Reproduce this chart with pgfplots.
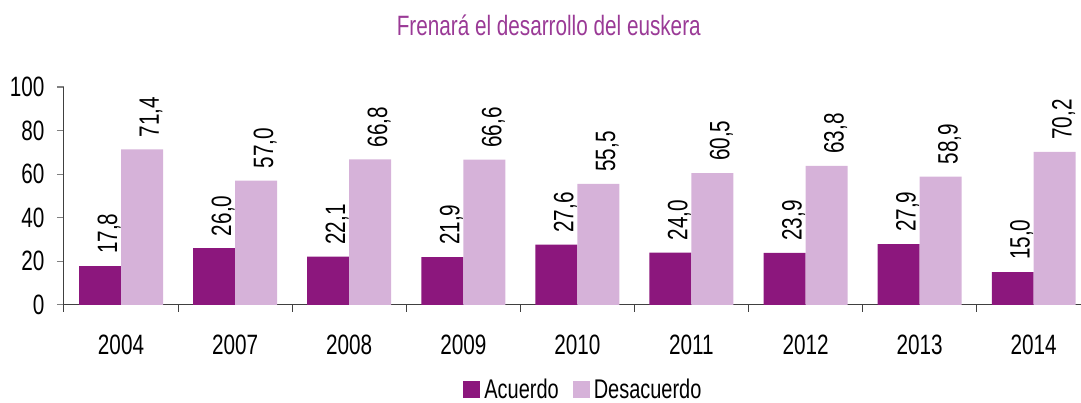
\documentclass[border=0pt]{standalone}
\usepackage{fontspec}
\setmainfont{Liberation Sans}[FakeStretch=0.74]
\usepackage{pgfplots}
\pgfplotsset{compat=1.18}
\definecolor{darkp}{HTML}{8C177D}
\definecolor{lightp}{HTML}{D6B2D9}
\definecolor{titlec}{HTML}{9A3A96}
\definecolor{axc}{HTML}{404040}
\begin{document}
\begin{tikzpicture}
\begin{axis}[name=ax,
  scale only axis, width=1017pt, height=218pt,
  xmin=-0.5, xmax=8.41, ymin=0, ymax=100,
  axis x line*=bottom, axis y line*=left,
  axis line style={axc, line width=1pt, -},
  ybar=0pt, bar width=42pt,
  xtick={0,...,8},
  xticklabels={2004,2007,2008,2009,2010,2011,2012,2013,2014},
  minor xtick={-0.5,0.5,...,7.5},
  ytick={0,20,...,100},
  tick align=outside,
  major tick length=7pt, minor tick length=7pt,
  xtick style={draw=none},
  minor x tick style={draw=axc, line width=1pt},
  y tick style={draw=gray, line width=1.2pt},
  /pgf/number format/assume math mode=true,
  tick label style={font=\fontsize{28}{30}\selectfont, black},
  yticklabel style={xshift=-9pt},
  xticklabel style={yshift=-20pt},
  clip=false,
  nodes near coords,
  every node near coord/.append style={rotate=90, anchor=west, inner sep=0pt, shift={(12pt,-9pt)},
     font=\fontsize{28}{30}\selectfont, black},
  nodes near coords={\pgfmathprintnumber[fixed, fixed zerofill, precision=1, use comma, assume math mode=true]{\pgfplotspointmeta}},
  legend style={at={(0.512,-0.39)}, anchor=center, draw=none, legend columns=2,
     font=\fontsize{27}{30}\selectfont, inner sep=0pt,
     nodes={inner xsep=4pt},
     /tikz/every even column/.append style={column sep=10pt}},
  legend image code/.code={\fill[#1] (0pt,-8pt) rectangle (17pt,9pt);},
]
\addplot[fill=darkp, draw=none, bar shift=-21pt] coordinates {
(0,17.8) (1,26.0) (2,22.1) (3,21.9) (4,27.6) (5,24.0) (6,23.9) (7,27.9) (8,15.0)};
\addplot[fill=lightp, draw=none, bar shift=21pt] coordinates {
(0,71.4) (1,57.0) (2,66.8) (3,66.6) (4,55.5) (5,60.5) (6,63.8) (7,58.9) (8,70.2)};
\legend{Acuerdo, Desacuerdo}
\end{axis}
\node[text=titlec, font=\fontsize{28}{30}\selectfont] at ([xshift=485pt, yshift=280pt]ax.south west) {Frenará el desarrollo del euskera};
\path[use as bounding box] ([xshift=-64pt,yshift=-95pt]ax.south west) rectangle ++(1081pt,400pt);
\end{tikzpicture}
\end{document}
